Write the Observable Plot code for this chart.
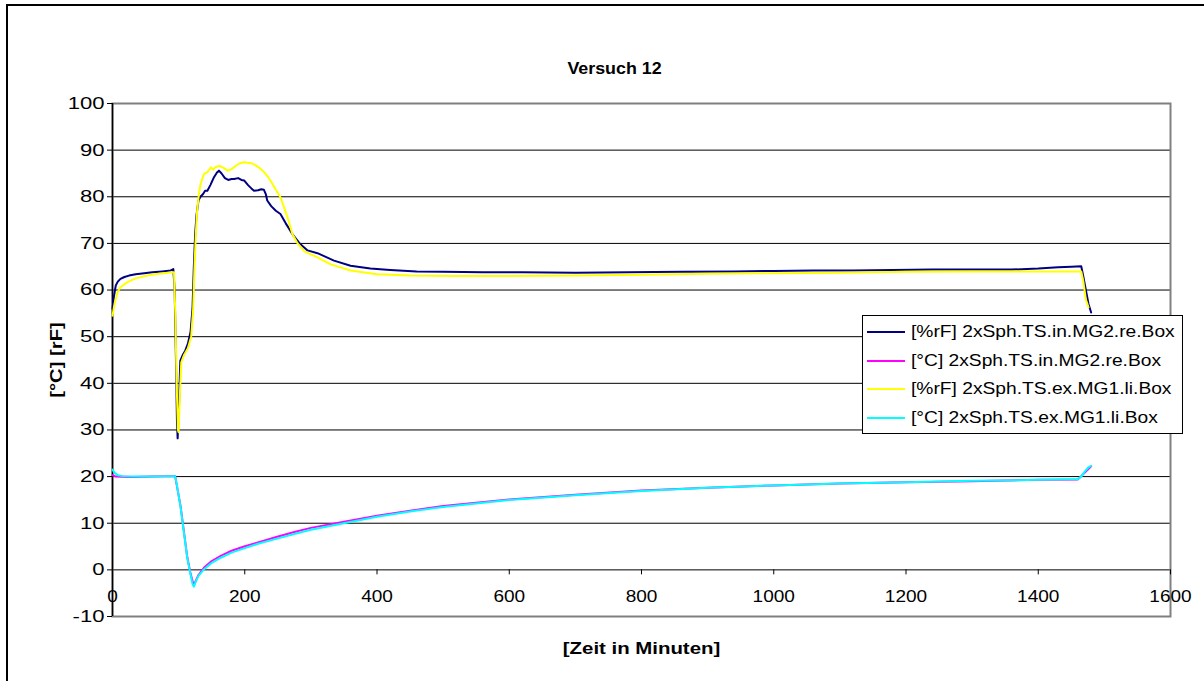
<!DOCTYPE html>
<html>
<head>
<meta charset="utf-8">
<script src="https://cdn.jsdelivr.net/npm/d3@7"></script>
<script src="https://cdn.jsdelivr.net/npm/@observablehq/plot@0.6"></script>
<style>
  html, body { margin: 0; padding: 0; background: #fff; overflow: hidden; }
  #wrap { position: relative; width: 1204px; height: 681px; overflow: hidden; }
  #border { position: absolute; left: 6px; top: 4px; width: 1300px; height: 900px; border: 2px solid #000; box-sizing: border-box; pointer-events: none; }
  #chart { position: absolute; left: 0; top: 0; }
  #legend { position: absolute; left: 862px; top: 315px; width: 321px; height: 119px; box-sizing: border-box;
            border: 1px solid #000; background: #fff; font-family: "Liberation Sans", Arial, sans-serif; font-size: 17px; }
  .row { position: absolute; left: 0; height: 20px; display: flex; align-items: center; white-space: nowrap; }
  .sw { width: 38px; height: 0; border-top: 2px solid; margin-left: 4px; margin-right: 6px; }
  .lbl { display: inline-block; transform: scaleX(1.13); transform-origin: left center; }
</style>
</head>
<body>
<div id="wrap">
  <div id="chart"></div>
  <div id="legend"></div>
  <div id="border"></div>
</div>
<script>
// ---- Data (minutes, value) ----
const rF_in = [[0,56],[2,58.5],[5,61],[8,61.8],[12,62.4],[18,62.8],[25,63.1],[35,63.4],[48,63.6],[60,63.8],[75,64],[88,64.2],[92,64.5],[94,60],[96,45],[97.5,32],[98.5,28.2],[100.5,35],[102.5,44.8],[106,46],[110,47],[114,48.5],[118,51],[121,56],[123,65],[125,72],[127,76],[130,79.2],[133,80],[137,80.6],[140,81.3],[143.5,81.3],[148,82.5],[153.5,84.2],[158,85.2],[161,85.6],[165,85],[170,84],[175,83.6],[180,83.8],[184,83.8],[190,84],[195,83.6],[199,83.5],[205,82.5],[210,81.8],[214,81.3],[220,81.4],[225,81.6],[229,81.5],[232,80.5],[234,79.2],[240,78],[247,77],[254,76.3],[262,74.3],[272,72],[283,70],[295,68.5],[310,67.9],[335,66.3],[360,65.2],[390,64.6],[420,64.3],[460,64],[500,63.9],[560,63.8],[620,63.8],[700,63.7],[780,63.8],[860,63.9],[940,64],[1000,64.1],[1060,64.2],[1120,64.2],[1180,64.3],[1240,64.4],[1300,64.4],[1360,64.4],[1400,64.6],[1430,64.9],[1450,65],[1465,65.1],[1468,63],[1472,60],[1476,57],[1480,55.2]];
const T_in = [[0,20.3],[5,20],[30,19.9],[60,20],[94.7,20.1],[103,13.6],[108,8.2],[113,2.8],[118,-0.8],[123,-3.4],[126,-2.3],[130,-1.1],[138.5,0.5],[150,1.9],[163.7,3],[180,4.1],[199,5],[220,5.9],[249,7.1],[275,8.1],[300,9],[350,10.3],[400,11.6],[450,12.7],[500,13.7],[600,15.1],[700,16.1],[800,17],[900,17.6],[1000,18.1],[1100,18.5],[1200,18.8],[1300,19],[1400,19.3],[1460,19.4],[1470,20.8],[1480,22.2]];
const rF_ex = [[0,54.5],[3,57],[7.5,59.5],[12,60.6],[22.7,61.7],[35,62.5],[53,63.1],[70,63.5],[90.7,63.8],[93,63.8],[95,55],[97,40],[99,30],[100,29.5],[102,38],[104,44.5],[108,46],[114,47.5],[119,50],[122,56],[124,65],[126,72],[128,77],[131,81],[133.4,82.8],[138.4,84.9],[143.5,85.3],[146,85.8],[149,86.3],[152,85.8],[156,86.4],[162,86.6],[168,86.2],[174,85.6],[180,85.9],[186,86.6],[193,87.2],[199,87.4],[204,87.3],[210,87.2],[216,86.8],[222,86.2],[229,85.3],[235,84.3],[241,83],[247,81.5],[254,79.9],[260,77.5],[266,75],[272,72],[280,70],[290,68.3],[310,67],[330,65.5],[360,64.2],[400,63.4],[450,63.1],[520,63],[600,63],[700,63.1],[800,63.3],[900,63.5],[1000,63.6],[1100,63.7],[1200,63.9],[1300,64],[1400,64],[1465,64],[1468,62],[1472,58],[1476,56.3]];
const T_ex = [[0,21.5],[3,20.8],[8,20.3],[15,20.1],[30,20],[60,20],[94.7,20.1],[97,18.5],[103,13.4],[108,8],[113,2.6],[118,-1],[121,-3],[123,-3.6],[126,-2.5],[130,-1.3],[138.5,0.15],[150,1.5],[163.7,2.6],[180,3.7],[199,4.6],[220,5.6],[249,6.7],[275,7.7],[300,8.6],[350,10],[400,11.4],[450,12.5],[500,13.5],[600,15],[700,16],[800,16.9],[900,17.6],[1000,18.1],[1100,18.5],[1200,18.8],[1300,19.1],[1400,19.3],[1460,19.5],[1465,20],[1470,21],[1476,22],[1480,22.3]];

const seriesNames = ["[%rF] 2xSph.TS.in.MG2.re.Box", "[°C] 2xSph.TS.in.MG2.re.Box", "[%rF] 2xSph.TS.ex.MG1.li.Box", "[°C] 2xSph.TS.ex.MG1.li.Box"];
const seriesColors = ["#000080", "#ff00ff", "#ffff00", "#00ffff"];
const seriesData = [rF_in, T_in, rF_ex, T_ex];

const xTicks = [0, 200, 400, 600, 800, 1000, 1200, 1400, 1600];
const yTicks = [-10, 0, 10, 20, 30, 40, 50, 60, 70, 80, 90, 100];
const gridTicks = [0, 10, 20, 30, 40, 50, 60, 70, 80, 90];

const title = "Versuch 12";
const xTitle = "[Zeit in Minuten]";
const yTitle = "[°C] [rF]";

// ---- Layout ----
const W = 1204, H = 681;
const mL = 112, mR = 34, mT = 103, mB = 65;
const zeroOffset = (H - mT - mB) * 10 / 110;
const font = "'Liberation Sans', Arial, sans-serif";

const lineMarks = seriesData.map((d, i) =>
  Plot.line(d, {x: p => p[0], y: p => p[1], stroke: seriesColors[i], strokeWidth: 2, strokeLinejoin: "round"})
);

const chart = Plot.plot({
  width: W, height: H,
  marginLeft: mL, marginRight: mR, marginTop: mT, marginBottom: mB,
  x: {domain: [0, 1600]},
  y: {domain: [-10, 100]},
  style: {fontFamily: font, fontSize: "17px", background: "transparent", color: "#000"},
  marks: [
    Plot.ruleY(gridTicks, {stroke: "#000", strokeWidth: 1}),
    Plot.frame({stroke: "#808080", strokeWidth: 2}),
    Plot.ruleX([0], {stroke: "#000", strokeWidth: 1.5}),
    Plot.axisY({ticks: yTicks, tickSize: 5, tickPadding: 3, label: null, tickFormat: d => String(d), stroke: "#000"}),
    Plot.axisX({ticks: xTicks, anchor: "bottom", dy: -zeroOffset, tickSize: 5, tickPadding: 15, label: null, tickFormat: d => String(d), stroke: "#000"}),
    ...lineMarks,
    Plot.text([title], {text: d => d, frameAnchor: "top", dx: -27, dy: -35, lineAnchor: "middle", textAnchor: "middle", fontWeight: "bold", fontSize: 17}),
    Plot.text([xTitle], {text: d => d, frameAnchor: "bottom", dy: 32, lineAnchor: "middle", textAnchor: "middle", fontWeight: "bold", fontSize: 17}),
    Plot.text([yTitle], {text: d => d, frameAnchor: "left", dx: -56, rotate: -90, lineAnchor: "middle", textAnchor: "middle", fontWeight: "bold", fontSize: 17})
  ]
});
document.getElementById("chart").appendChild(chart);

// Horizontal stretch of text glyphs (reference text is rendered wider than Arial)
function stretch(el, s) {
  const x = +el.getAttribute("x") || 0;
  const y = +el.getAttribute("y") || 0;
  const t = el.getAttribute("transform") || "";
  el.setAttribute("transform", `${t} translate(${x},${y}) scale(${s},1) translate(${-x},${-y})`);
}
chart.querySelectorAll(`g[aria-label="y-axis tick label"] text`).forEach(el => stretch(el, 1.3));
chart.querySelectorAll(`g[aria-label="x-axis tick label"] text`).forEach(el => stretch(el, 1.12));
const textStretch = new Map([[title, 1.05], [xTitle, 1.2], [yTitle, 1.19]]);
chart.querySelectorAll("text").forEach(el => {
  const s = textStretch.get(el.textContent);
  if (s) stretch(el, s);
});

// ---- Legend ----
const legend = document.getElementById("legend");
const rowTops = [6, 35, 63, 92];
seriesNames.forEach((name, i) => {
  const row = document.createElement("div");
  row.className = "row";
  row.style.top = rowTops[i] + "px";
  const sw = document.createElement("div");
  sw.className = "sw";
  sw.style.borderTopColor = seriesColors[i];
  const label = document.createElement("span");
  label.className = "lbl";
  label.textContent = name;
  row.appendChild(sw);
  row.appendChild(label);
  legend.appendChild(row);
});
</script>
</body>
</html>
